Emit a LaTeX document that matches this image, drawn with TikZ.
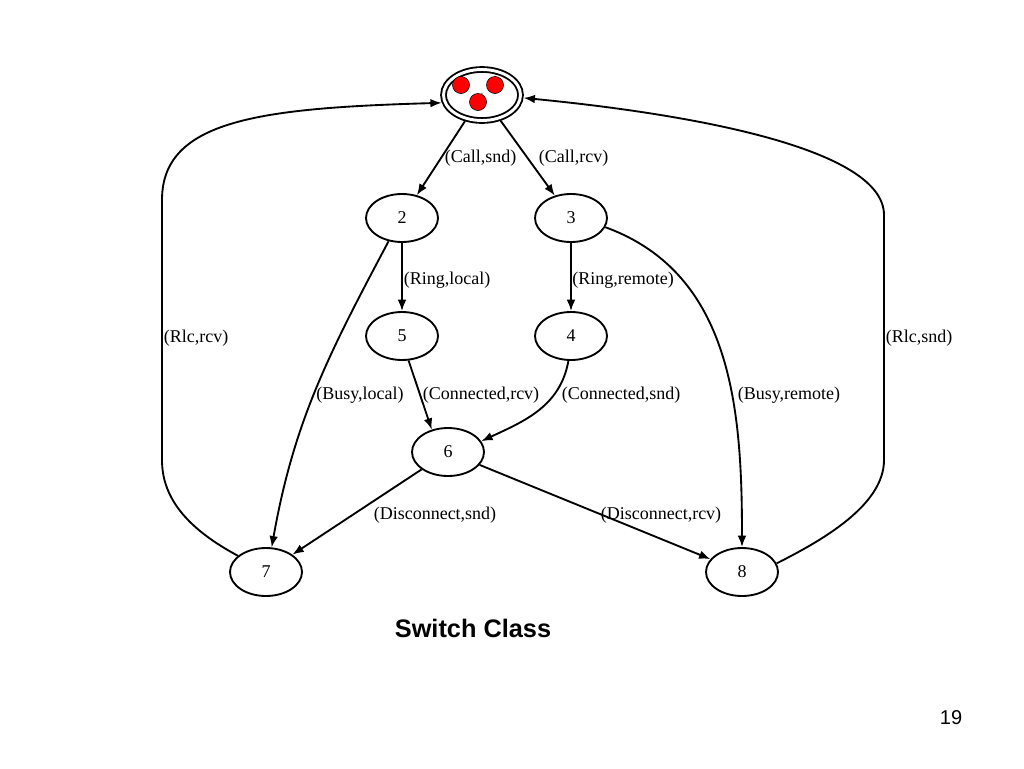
\documentclass[tikz,border=0pt]{standalone}
\usepackage{fontspec}
\setmainfont{Liberation Serif}
\setsansfont{Liberation Sans}
\usetikzlibrary{shapes.geometric, arrows.meta}
\newcommand{\lblfont}{\fontsize{13.5pt}{16pt}\selectfont}

\begin{document}
\begin{tikzpicture}[x=0.75pt, y=-0.75pt,
    >={Latex[length=8.5pt,width=6.5pt]},
    state/.style={ellipse, draw, line width=1.4pt, minimum width=54pt, minimum height=36pt, inner sep=0pt, font=\lblfont},
    start/.style={state, double, double distance=2.2pt, minimum width=57.75pt, minimum height=38.25pt, outer sep=2.5pt},
    token/.style={circle, fill=red, draw=black, line width=0.4pt, minimum size=12.8pt, inner sep=0pt},
    edge/.style={->, line width=1.4pt},
    lbl/.style={font=\lblfont, inner sep=0pt}]
    \useasboundingbox (0,0) rectangle (1024,768);

    % States
    \node[start] (s1) at (482,95) {\fontsize{5pt}{5pt}\selectfont 1};
    \node[state] (s2) at (402,218) {2};
    \node[state] (s3) at (571,218) {3};
    \node[state] (s5) at (402,336) {5};
    \node[state] (s4) at (571,336) {4};
    \node[state] (s6) at (448,452) {6};
    \node[state] (s7) at (266,572) {7};
    \node[state] (s8) at (742,572) {8};

    % Tokens in the start state
    \node[token] (t1) at (461,85) {};
    \node[token] (t2) at (495,85) {};
    \node[token] (t3) at (478,102) {};

    % Arrows
    \draw[edge] (s1) -- (s2);
    \draw[edge] (s1) -- (s3);
    \draw[edge] (s2) -- (s5);
    \draw[edge] (s3) -- (s4);
    \draw[edge] (s2.-120) to[out=-118, in=80] (s7.77);
    \draw[edge] (s5.-75) -- (s6.126);
    \draw[edge] (s4.-96) to[out=-100, in=25] (s6.18);
    \draw[edge] (s3.-15) to[out=-20, in=90] (s8.north);
    \draw[edge] (s6) -- (s7);
    \draw[edge] (s6) -- (s8);
    \draw[edge] (s7.150) .. controls (190,530) and (162,500) .. (162,460)
        -- (162,200) .. controls (162,120) and (260,108) .. (s1.-169);
    \draw[edge] (s8.14) .. controls (823,540) and (884,505) .. (884,460)
        -- (884,215) .. controls (884,150) and (700,115) .. (s1.-4);

    % Labels
    \node[lbl] (l12) at (480.5,158) {(Call,snd)};
    \node[lbl] (l13) at (573.5,158) {(Call,rcv)};
    \node[lbl] (l25) at (447,280) {(Ring,local)};
    \node[lbl] (l34) at (623,280) {(Ring,remote)};
    \node[lbl] (l71) at (196,338) {(Rlc,rcv)};
    \node[lbl] (l81) at (919,338) {(Rlc,snd)};
    \node[lbl] (l27) at (360,395) {(Busy,local)};
    \node[lbl] (l56) at (481,395) {(Connected,rcv)};
    \node[lbl] (l46) at (621,395) {(Connected,snd)};
    \node[lbl] (l38) at (789,395) {(Busy,remote)};
    \node[lbl] (l67) at (435,515) {(Disconnect,snd)};
    \node[lbl] (l68) at (661,515) {(Disconnect,rcv)};

    % Title and page number
    \node[font=\sffamily\bfseries\fontsize{19pt}{22pt}\selectfont] (title) at (473,628) {Switch Class};
    \node[font=\sffamily\fontsize{15pt}{18pt}\selectfont] (page) at (951,718) {19};

\end{tikzpicture}
\end{document}
